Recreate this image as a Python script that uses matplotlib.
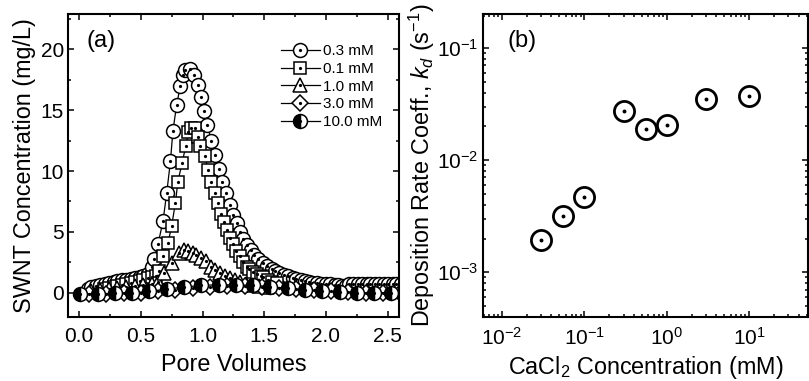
import numpy as np
import matplotlib
matplotlib.use("Agg")
import matplotlib.pyplot as plt
from matplotlib.ticker import MultipleLocator, LogLocator, NullFormatter

plt.rcParams['font.family'] = ['Liberation Sans', 'DejaVu Sans']
plt.rcParams['mathtext.fontset'] = 'custom'
plt.rcParams['mathtext.rm'] = 'Liberation Sans'
plt.rcParams['mathtext.it'] = 'Liberation Sans:italic'

# --- panel (a): breakthrough curves ---
pv_03 = [0.07, 0.10, 0.14, 0.17, 0.21, 0.24, 0.28, 0.31, 0.35, 0.38, 0.42, 0.45, 0.49, 0.52,
         0.56, 0.59, 0.61, 0.64, 0.68, 0.71, 0.74, 0.76, 0.79, 0.82, 0.84, 0.86, 0.90, 0.93,
         0.96, 0.99, 1.01, 1.04, 1.07, 1.10, 1.13, 1.16, 1.19, 1.22, 1.25, 1.28, 1.30, 1.33,
         1.36, 1.39, 1.42, 1.45, 1.49, 1.52, 1.56, 1.59, 1.62, 1.66, 1.69, 1.73, 1.76, 1.80,
         1.83, 1.86, 1.89, 1.93, 1.96, 2.00, 2.03, 2.07, 2.10, 2.13, 2.16, 2.19, 2.22, 2.26,
         2.29, 2.33, 2.36, 2.40, 2.43, 2.47, 2.50, 2.54, 2.57, 2.61]
c_03 = [0.28, 0.45, 0.58, 0.66, 0.74, 0.80, 0.88, 0.95, 1.02, 1.08, 1.14, 1.20, 1.28, 1.36,
        1.55, 2.1, 2.8, 4.0, 5.9, 8.2, 10.8, 13.3, 15.4, 17.0, 17.9, 18.3, 18.4, 17.9,
        17.1, 16.1, 14.9, 13.8, 12.5, 11.3, 10.2, 9.1, 8.2, 7.2, 6.4, 5.7, 5.0, 4.4,
        3.95, 3.5, 3.1, 2.8, 2.46, 2.2, 1.98, 1.8, 1.64, 1.48, 1.35, 1.22, 1.10, 1.02,
        0.95, 0.88, 0.82, 0.78, 0.75, 0.72, 0.69, 0.65, 0.62, 0.58, 0.55, 0.72, 0.74, 0.74,
        0.75, 0.75, 0.75, 0.75, 0.75, 0.75, 0.75, 0.75, 0.75, 0.75]

pv_01 = [0.20, 0.24, 0.28, 0.31, 0.35, 0.38, 0.42, 0.45, 0.49, 0.52, 0.56, 0.59, 0.62, 0.65,
         0.68, 0.72, 0.75, 0.78, 0.80, 0.835, 0.865, 0.885, 0.91, 0.94, 0.965, 0.98, 1.02,
         1.045, 1.07, 1.10, 1.126, 1.15, 1.175, 1.20, 1.22, 1.245, 1.275, 1.30, 1.33, 1.36,
         1.38, 1.41, 1.44, 1.47, 1.49, 1.53, 1.56, 1.60]
c_01 = [0.30, 0.40, 0.48, 0.55, 0.62, 0.70, 0.78, 0.85, 0.95, 1.05, 1.20, 1.30, 1.40, 1.8,
        3.0, 4.07, 5.5, 7.35, 9.1, 10.7, 12.07, 13.2, 13.5, 13.5, 12.8, 12.07, 11.2,
        10.1, 9.1, 8.2, 7.35, 6.5, 5.85, 5.16, 4.5, 4.0, 3.45, 3.0, 2.5, 2.15,
        1.95, 1.7, 1.53, 1.35, 1.25, 1.0, 0.9, 0.8]

pv_10 = [0.10, 0.17, 0.24, 0.31, 0.38, 0.45, 0.52, 0.59, 0.64, 0.69, 0.75, 0.81, 0.85, 0.88,
         0.92, 0.95, 0.99, 1.03, 1.07, 1.10, 1.14, 1.18, 1.22, 1.26, 1.30, 1.35, 1.40, 1.46,
         1.52]
c_10 = [0.15, 0.25, 0.32, 0.38, 0.45, 0.52, 0.60, 0.70, 0.90, 1.6, 2.43, 3.25, 3.5, 3.45,
        3.3, 3.1, 2.85, 2.57, 2.15, 1.85, 1.6, 1.4, 1.2, 1.0, 0.85, 0.72, 0.62, 0.55,
        0.5]

pv_30 = [0.08, 0.22, 0.36, 0.50, 0.64, 0.78, 0.92, 1.06, 1.20, 1.34, 1.48, 1.62, 1.76, 1.90,
         2.04, 2.18, 2.32, 2.46, 2.60]
c_30 = [-0.1, -0.1, -0.05, 0.0, 0.1, 0.25, 0.4, 0.5, 0.55, 0.55, 0.5, 0.4, 0.3, 0.2,
        0.1, 0.05, 0.0, 0.0, 0.0]

pv_100 = [0.01, 0.15, 0.29, 0.43, 0.57, 0.71, 0.85, 0.99, 1.13, 1.27, 1.41, 1.55, 1.69, 1.83,
          1.97, 2.11, 2.25, 2.39, 2.53, 2.67]
c_100 = [-0.1, -0.1, -0.05, 0.0, 0.1, 0.3, 0.45, 0.6, 0.65, 0.65, 0.6, 0.5, 0.35, 0.2,
         0.1, 0.05, 0.0, 0.0, 0.0, 0.0]

# --- panel (b): deposition rate coefficients ---
cacl2 = [0.03, 0.055, 0.1, 0.3, 0.56, 1.0, 3.0, 10.0]
kd = [1.93e-3, 3.2e-3, 4.7e-3, 2.75e-2, 1.89e-2, 2.05e-2, 3.48e-2, 3.75e-2]

fig = plt.figure(figsize=(8.09, 3.81), dpi=100)
ax1 = fig.add_axes([0.084, 0.168, 0.409, 0.795])
ax2 = fig.add_axes([0.597, 0.168, 0.402, 0.795])

series = [
    (pv_03, c_03, 'o', 10, '0.3 mM', {}),
    (pv_01, c_01, 's', 9, '0.1 mM', {}),
    (pv_10, c_10, '^', 10.5, '1.0 mM', {}),
    (pv_30, c_30, 'D', 8, '3.0 mM', {}),
    (pv_100, c_100, 'o', 10, '10.0 mM', dict(fillstyle='left', markerfacecoloralt='white')),
]

handles = []
labels = []
for x, y, m, ms, lab, extra in series:
    face = 'black' if extra else 'white'
    ln, = ax1.plot(x, y, color='black', lw=0.9, marker=m, ms=ms, mec='black',
                   mfc=face, mew=1.1, **extra)
    dots, = ax1.plot(x, y, ls='none', marker='o', ms=1.3, color='black')
    handles.append((ln, dots))
    labels.append(lab)

ax1.set_xlim(-0.09, 2.59)
ax1.set_ylim(-2, 22.9)
ax1.xaxis.set_major_locator(MultipleLocator(0.5))
ax1.xaxis.set_minor_locator(MultipleLocator(0.25))
ax1.yaxis.set_major_locator(MultipleLocator(5))
ax1.yaxis.set_minor_locator(MultipleLocator(2.5))
ax1.xaxis.set_major_formatter(plt.FormatStrFormatter('%.1f'))
ax1.set_xlabel('Pore Volumes', fontsize=16.8, labelpad=5)
ax1.set_ylabel('SWNT Concentration (mg/L)', fontsize=16.8, labelpad=3)
ax1.text(0.055, 0.89, '(a)', transform=ax1.transAxes, fontsize=17)

ax1.legend(handles, labels, loc='upper left', bbox_to_anchor=(0.645, 0.9),
           frameon=False, fontsize=11, borderpad=0, borderaxespad=0,
           handlelength=2.5, handletextpad=0.2, labelspacing=0.24)

ax2.plot(cacl2, kd, ls='none', marker='o', ms=14.5, mfc='white', mec='black', mew=2)
ax2.plot(cacl2, kd, ls='none', marker='o', ms=1.8, color='black')
ax2.set_xscale('log')
ax2.set_yscale('log')
ax2.set_xlim(5.9e-3, 52)
ax2.set_ylim(4e-4, 0.2)
ax2.xaxis.set_major_locator(LogLocator(base=10, numticks=10))
ax2.xaxis.set_minor_locator(LogLocator(base=10, subs=np.arange(2, 10), numticks=20))
ax2.yaxis.set_minor_locator(LogLocator(base=10, subs=np.arange(2, 10), numticks=20))
ax2.xaxis.set_minor_formatter(NullFormatter())
ax2.yaxis.set_minor_formatter(NullFormatter())
ax2.set_xlabel('CaCl$_2$ Concentration (mM)', fontsize=16.8, labelpad=4)
ax2.set_ylabel('Deposition Rate Coeff., $k_d$ (s$^{-1}$)', fontsize=16.8, labelpad=0)
ax2.text(0.075, 0.89, '(b)', transform=ax2.transAxes, fontsize=17)

for ax in (ax1, ax2):
    for s in ax.spines.values():
        s.set_linewidth(1.5)
    ax.tick_params(which='both', direction='in', top=True, right=True, width=1.1)
    ax.tick_params(which='major', length=4.5, labelsize=15)
    ax.tick_params(which='minor', length=2.5)
    ax.tick_params(axis='x', which='major', pad=7)
    ax.tick_params(axis='y', which='major', pad=3)

fig.savefig('out.png', dpi=100)
